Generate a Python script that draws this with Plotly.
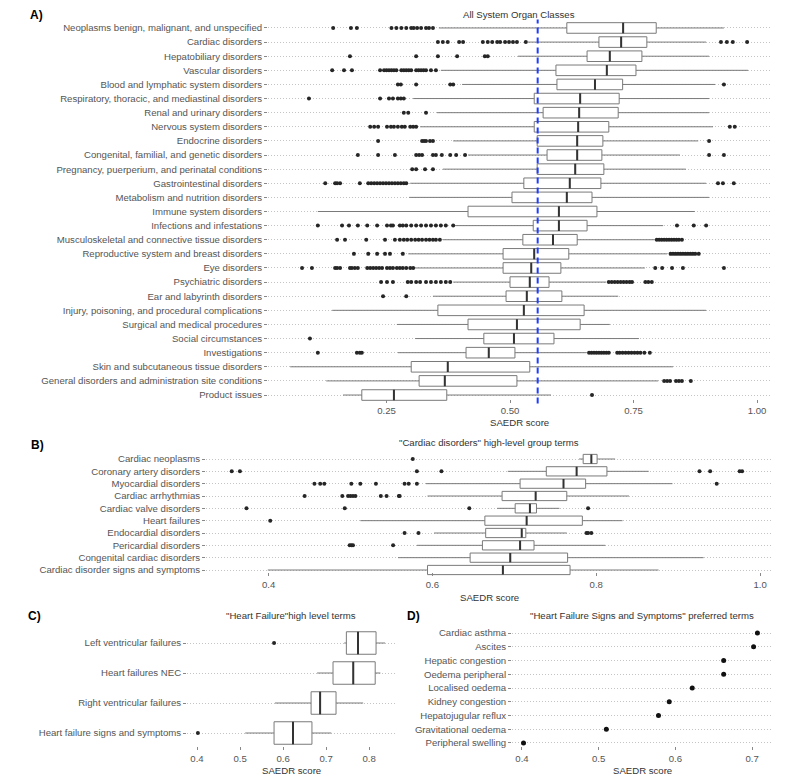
import plotly.graph_objects as go

# ---------------- DATA ----------------
A_categories = [
    "Neoplasms benign, malignant, and unspecified", "Cardiac disorders", "Hepatobiliary disorders",
    "Vascular disorders", "Blood and lymphatic system disorders",
    "Respiratory, thoracic, and mediastinal disorders", "Renal and urinary disorders",
    "Nervous system disorders", "Endocrine disorders", "Congenital, familial, and genetic disorders",
    "Pregnancy, puerperium, and perinatal conditions", "Gastrointestinal disorders",
    "Metabolism and nutrition disorders", "Immune system disorders", "Infections and infestations",
    "Musculoskeletal and connective tissue disorders", "Reproductive system and breast disorders",
    "Eye disorders", "Psychiatric disorders", "Ear and labyrinth disorders",
    "Injury, poisoning, and procedural complications", "Surgical and medical procedures",
    "Social circumstances", "Investigations", "Skin and subcutaneous tissue disorders",
    "General disorders and administration site conditions", "Product issues",
]
A_lower = [0.356, 0.536, 0.516, 0.360, 0.403, 0.304, 0.352, 0.318, 0.385, 0.415, 0.364, 0.298, 0.296, 0.111,
           0.389, 0.364, 0.294, 0.308, 0.385, 0.344, 0.140, 0.271, 0.308, 0.273, 0.055, 0.128, 0.162]
A_q1 = [0.615, 0.680, 0.656, 0.593, 0.595, 0.549, 0.567, 0.549, 0.555, 0.575, 0.555, 0.528, 0.504, 0.415,
        0.547, 0.526, 0.486, 0.486, 0.500, 0.492, 0.354, 0.415, 0.447, 0.411, 0.300, 0.316, 0.200]
A_median = [0.729, 0.725, 0.702, 0.696, 0.672, 0.642, 0.640, 0.638, 0.636, 0.636, 0.632, 0.621, 0.615, 0.599,
            0.599, 0.587, 0.549, 0.543, 0.540, 0.534, 0.528, 0.514, 0.508, 0.457, 0.374, 0.368, 0.265]
A_q3 = [0.796, 0.777, 0.767, 0.755, 0.728, 0.721, 0.719, 0.700, 0.688, 0.686, 0.690, 0.684, 0.666, 0.676,
        0.656, 0.636, 0.619, 0.603, 0.579, 0.605, 0.650, 0.642, 0.589, 0.510, 0.540, 0.514, 0.372]
A_upper = [0.933, 0.897, 0.903, 0.982, 0.915, 0.903, 0.903, 0.911, 0.881, 0.844, 0.856, 0.897, 0.903, 0.874,
           0.810, 0.793, 0.818, 0.773, 0.695, 0.719, 0.897, 0.702, 0.761, 0.655, 0.830, 0.800, 0.583]
A_outliers = [
    [0.142, 0.178, 0.190, 0.260, 0.270, 0.280, 0.290, 0.300, 0.305, 0.312, 0.320, 0.330, 0.336, 0.344],
    [0.354, 0.364, 0.374, 0.397, 0.405, 0.445, 0.455, 0.464, 0.474, 0.480, 0.490, 0.498, 0.506, 0.514, 0.532,
     0.927, 0.939, 0.951, 0.980],
    [0.176, 0.310, 0.354, 0.393, 0.449, 0.455],
    [0.140, 0.164, 0.180, 0.237, 0.245, 0.250, 0.255, 0.260, 0.265, 0.270, 0.280, 0.285, 0.290, 0.295, 0.300,
     0.310, 0.315, 0.320, 0.325, 0.330, 0.340, 0.350],
    [0.273, 0.279, 0.310, 0.379, 0.385, 0.933],
    [0.093, 0.237, 0.255, 0.263, 0.273, 0.279, 0.285],
    [0.285, 0.294, 0.330],
    [0.217, 0.225, 0.233, 0.251, 0.259, 0.265, 0.273, 0.281, 0.287, 0.298, 0.304, 0.310, 0.945, 0.955],
    [0.233, 0.322, 0.326, 0.330, 0.338, 0.344, 0.903],
    [0.192, 0.233, 0.267, 0.310, 0.316, 0.322, 0.344, 0.350, 0.362, 0.379, 0.391, 0.409, 0.903, 0.933],
    [0.302, 0.310, 0.328, 0.344],
    [0.126, 0.146, 0.150, 0.156, 0.196, 0.213, 0.219, 0.225, 0.231, 0.237, 0.243, 0.249, 0.255, 0.261, 0.267,
     0.273, 0.279, 0.285, 0.290, 0.921, 0.931, 0.953],
    [],
    [],
    [0.111, 0.160, 0.174, 0.192, 0.211, 0.231, 0.251, 0.259, 0.263, 0.277, 0.283, 0.290, 0.300, 0.310, 0.320,
     0.330, 0.340, 0.350, 0.360, 0.370, 0.385, 0.838, 0.872, 0.897],
    [0.150, 0.166, 0.209, 0.247, 0.267, 0.277, 0.285, 0.292, 0.300, 0.308, 0.315, 0.322, 0.330, 0.337, 0.344,
     0.350, 0.358, 0.797, 0.802, 0.807, 0.812, 0.817, 0.822, 0.827, 0.832, 0.837, 0.842, 0.848],
    [0.184, 0.213, 0.231, 0.247, 0.257, 0.283, 0.825, 0.830, 0.835, 0.840, 0.845, 0.850, 0.855, 0.860, 0.865,
     0.870, 0.875, 0.882],
    [0.079, 0.099, 0.146, 0.150, 0.156, 0.176, 0.180, 0.186, 0.192, 0.211, 0.217, 0.223, 0.229, 0.235, 0.241,
     0.251, 0.257, 0.263, 0.271, 0.277, 0.283, 0.290, 0.298, 0.304, 0.794, 0.808, 0.828, 0.850, 0.933],
    [0.239, 0.251, 0.263, 0.293, 0.300, 0.310, 0.318, 0.330, 0.340, 0.350, 0.360, 0.370, 0.379, 0.700, 0.706,
     0.712, 0.718, 0.724, 0.730, 0.736, 0.742, 0.747, 0.774, 0.780, 0.787],
    [0.243, 0.290],
    [],
    [],
    [0.095],
    [0.111, 0.190, 0.196, 0.200, 0.660, 0.665, 0.670, 0.675, 0.680, 0.685, 0.690, 0.695, 0.700, 0.717, 0.722,
     0.728, 0.734, 0.740, 0.746, 0.752, 0.758, 0.764, 0.772, 0.783],
    [],
    [0.812, 0.818, 0.824, 0.836, 0.842, 0.848, 0.866],
    [0.666],
]
A_reference_line = 0.556

B_categories = [
    "Cardiac neoplasms", "Coronary artery disorders", "Myocardial disorders", "Cardiac arrhythmias",
    "Cardiac valve disorders", "Heart failures", "Endocardial disorders", "Pericardial disorders",
    "Congenital cardiac disorders", "Cardiac disorder signs and symptoms",
]
B_lower = [0.779, 0.692, 0.592, 0.594, 0.679, 0.512, 0.602, 0.581, 0.558, 0.399]
B_q1 = [0.784, 0.739, 0.707, 0.685, 0.701, 0.664, 0.665, 0.661, 0.646, 0.594]
B_median = [0.794, 0.776, 0.760, 0.726, 0.719, 0.715, 0.709, 0.707, 0.695, 0.686]
B_q3 = [0.801, 0.813, 0.787, 0.764, 0.727, 0.783, 0.714, 0.724, 0.765, 0.768]
B_upper = [0.823, 0.864, 0.893, 0.840, 0.755, 0.832, 0.764, 0.811, 0.931, 0.876]
B_outliers = [
    [0.576],
    [0.355, 0.365, 0.581, 0.611, 0.926, 0.939, 0.975, 0.978],
    [0.456, 0.463, 0.468, 0.501, 0.512, 0.531, 0.566, 0.571, 0.581, 0.947],
    [0.444, 0.490, 0.497, 0.500, 0.503, 0.506, 0.537, 0.544, 0.559, 0.560],
    [0.373, 0.493, 0.645, 0.790],
    [0.402],
    [0.566, 0.583, 0.788, 0.790, 0.794],
    [0.499, 0.501, 0.503, 0.552],
    [],
    [],
]

C_categories = ["Left ventricular failures", "Heart failures NEC", "Right ventricular failures",
                "Heart failure signs and symptoms"]
C_lower = [0.742, 0.679, 0.581, 0.512]
C_q1 = [0.747, 0.716, 0.665, 0.579]
C_median = [0.774, 0.763, 0.686, 0.623]
C_q3 = [0.816, 0.814, 0.723, 0.667]
C_upper = [0.837, 0.826, 0.786, 0.712]
C_outliers = [[0.579], [], [], [0.402]]

D_categories = ["Cardiac asthma", "Ascites", "Hepatic congestion", "Oedema peripheral", "Localised oedema",
                "Kidney congestion", "Hepatojugular reflux", "Gravitational oedema", "Peripheral swelling"]
D_values = [0.707, 0.702, 0.663, 0.663, 0.622, 0.592, 0.578, 0.510, 0.402]

A_ticks = [0.25, 0.50, 0.75, 1.00]
B_ticks = [0.4, 0.6, 0.8, 1.0]
C_ticks = [0.4, 0.5, 0.6, 0.7, 0.8]
D_ticks = [0.4, 0.5, 0.6, 0.7]

# ---------------- LAYOUT HELPERS ----------------
OFF = 8                     # page body margin of the browser
W, H = 800 - OFF, 780 - OFF
FONT = "Liberation Sans, Arial, sans-serif"
FS = 9.6
TICK_COLOR = "#555555"
TEXT_COLOR = "#333333"


def px(xp):
    return (xp - OFF) / W


def py(yp):
    return 1 - (yp - OFF) / H


# panel pixel boxes in window coordinates: (left, right, top, bottom)
panels = {
    "A": (268, 770, 19.5, 403.5),
    "B": (206, 772, 451.6, 577.4),
    "C": (187, 395, 625, 751),
    "D": (512, 772, 624.8, 751.2),
}
xranges = {"A": [0.0101, 1.0263], "B": [0.3236, 1.0145], "C": [0.3767, 0.860], "D": [0.387, 0.726]}
cats = {"A": A_categories, "B": B_categories, "C": C_categories, "D": D_categories}
ticks = {"A": (A_ticks, ".2f"), "B": (B_ticks, ".1f"), "C": (C_ticks, ".1f"), "D": (D_ticks, ".1f")}
axis_ids = {"A": "", "B": "2", "C": "3", "D": "4"}
LABEL_LIFT = 5  # px the x tick labels sit closer to the panel

fig = go.Figure()
layout = dict(
    width=W, height=H, margin=dict(l=0, r=0, t=0, b=0),
    paper_bgcolor="white", plot_bgcolor="white", showlegend=False,
    font=dict(family=FONT, size=FS, color=TICK_COLOR),
)

for key, (l, r, t, b) in panels.items():
    aid = axis_ids[key]
    n = len(cats[key])
    tv, tf = ticks[key]
    layout["xaxis" + aid] = dict(
        domain=[px(l), px(r)], range=xranges[key], anchor="free", position=py(b) + LABEL_LIFT / H,
        showgrid=False, zeroline=False, showline=False,
        tickvals=tv, tickformat=tf, ticks="outside", ticklen=3, tickwidth=1,
        tickcolor="#888888", tickfont=dict(size=FS, color=TICK_COLOR, family=FONT),
    )
    layout["yaxis" + aid] = dict(
        domain=[py(b), py(t)], anchor="x" + aid, type="category",
        categoryorder="array", categoryarray=cats[key], range=[n - 1 + 0.6, -0.6],
        showgrid=True, gridcolor="#c4c4c4", griddash="1px,2px", gridwidth=1,
        zeroline=False, showline=False, ticks="outside", ticklen=3, tickwidth=1,
        tickcolor="#888888", tickfont=dict(size=FS, color=TICK_COLOR, family=FONT),
    )


def add_box_panel(key, lower, q1, med, q3, upper, outliers):
    aid = axis_ids[key]
    l, r, t, b = panels[key]
    n = len(cats[key])
    unit_px = (b - t) / (n - 1 + 1.2)
    box_frac = 0.75
    fig.add_trace(go.Box(
        y=cats[key], q1=q1, median=med, q3=q3, lowerfence=lower, upperfence=upper,
        orientation="h", fillcolor="white", line=dict(color="#7a7a7a", width=1),
        whiskerwidth=0, width=box_frac, boxpoints=False, hoverinfo="skip",
        xaxis="x" + aid, yaxis="y" + aid,
    ))
    # median lines (thicker, darker)
    fig.add_trace(go.Scatter(
        x=med, y=cats[key], mode="markers", hoverinfo="skip",
        marker=dict(symbol="line-ns", size=box_frac * unit_px / 1.4,
                    line=dict(width=2, color="#333333")),
        xaxis="x" + aid, yaxis="y" + aid,
    ))
    ox, oy = [], []
    for c, vals in zip(cats[key], outliers):
        for v in vals:
            ox.append(v)
            oy.append(c)
    fig.add_trace(go.Scatter(
        x=ox, y=oy, mode="markers", hoverinfo="skip",
        marker=dict(size=4, color="#262626"),
        xaxis="x" + aid, yaxis="y" + aid,
    ))


add_box_panel("A", A_lower, A_q1, A_median, A_q3, A_upper, A_outliers)
add_box_panel("B", B_lower, B_q1, B_median, B_q3, B_upper, B_outliers)
add_box_panel("C", C_lower, C_q1, C_median, C_q3, C_upper, C_outliers)

fig.add_trace(go.Scatter(
    x=D_values, y=D_categories, mode="markers", hoverinfo="skip",
    marker=dict(size=5, color="#111111"), xaxis="x4", yaxis="y4",
))

shapes = [dict(
    type="line", xref="x", yref="y domain", x0=A_reference_line, x1=A_reference_line, y0=0, y1=1,
    line=dict(color="#1f3cff", width=2, dash="6px,4px"), layer="above",
)]

titles = {
    "A": ("All System Organ Classes", 14),
    "B": ("\"Cardiac disorders\" high-level group terms", 442),
    "C": ("\"Heart Failure\"high level terms", 615),
    "D": ("\"Heart Failure Signs and Symptoms\" preferred terms", 615),
}
axis_title_y = {"A": 422, "B": 597, "C": 770, "D": 770}
labels = {"A": (36, 15), "B": (37, 445), "C": (35, 616), "D": (413, 616)}

annotations = []
for key, (l, r, t, b) in panels.items():
    cx = px((l + r) / 2)
    txt, ty = titles[key]
    annotations.append(dict(text=txt, x=cx, y=py(ty), xref="paper", yref="paper",
                            showarrow=False, xanchor="center", yanchor="middle",
                            font=dict(size=FS, color=TEXT_COLOR, family=FONT)))
    annotations.append(dict(text="SAEDR score", x=cx, y=py(axis_title_y[key]), xref="paper", yref="paper",
                            showarrow=False, xanchor="center", yanchor="middle",
                            font=dict(size=FS, color=TEXT_COLOR, family=FONT)))
    lx, ly = labels[key]
    annotations.append(dict(text="<b>" + key + ")</b>", x=px(lx), y=py(ly), xref="paper", yref="paper",
                            showarrow=False, xanchor="center", yanchor="middle",
                            font=dict(size=12, color="#000000", family=FONT)))

layout["shapes"] = shapes
layout["annotations"] = annotations
fig.update_layout(**layout)

fig.write_html("out.html")
